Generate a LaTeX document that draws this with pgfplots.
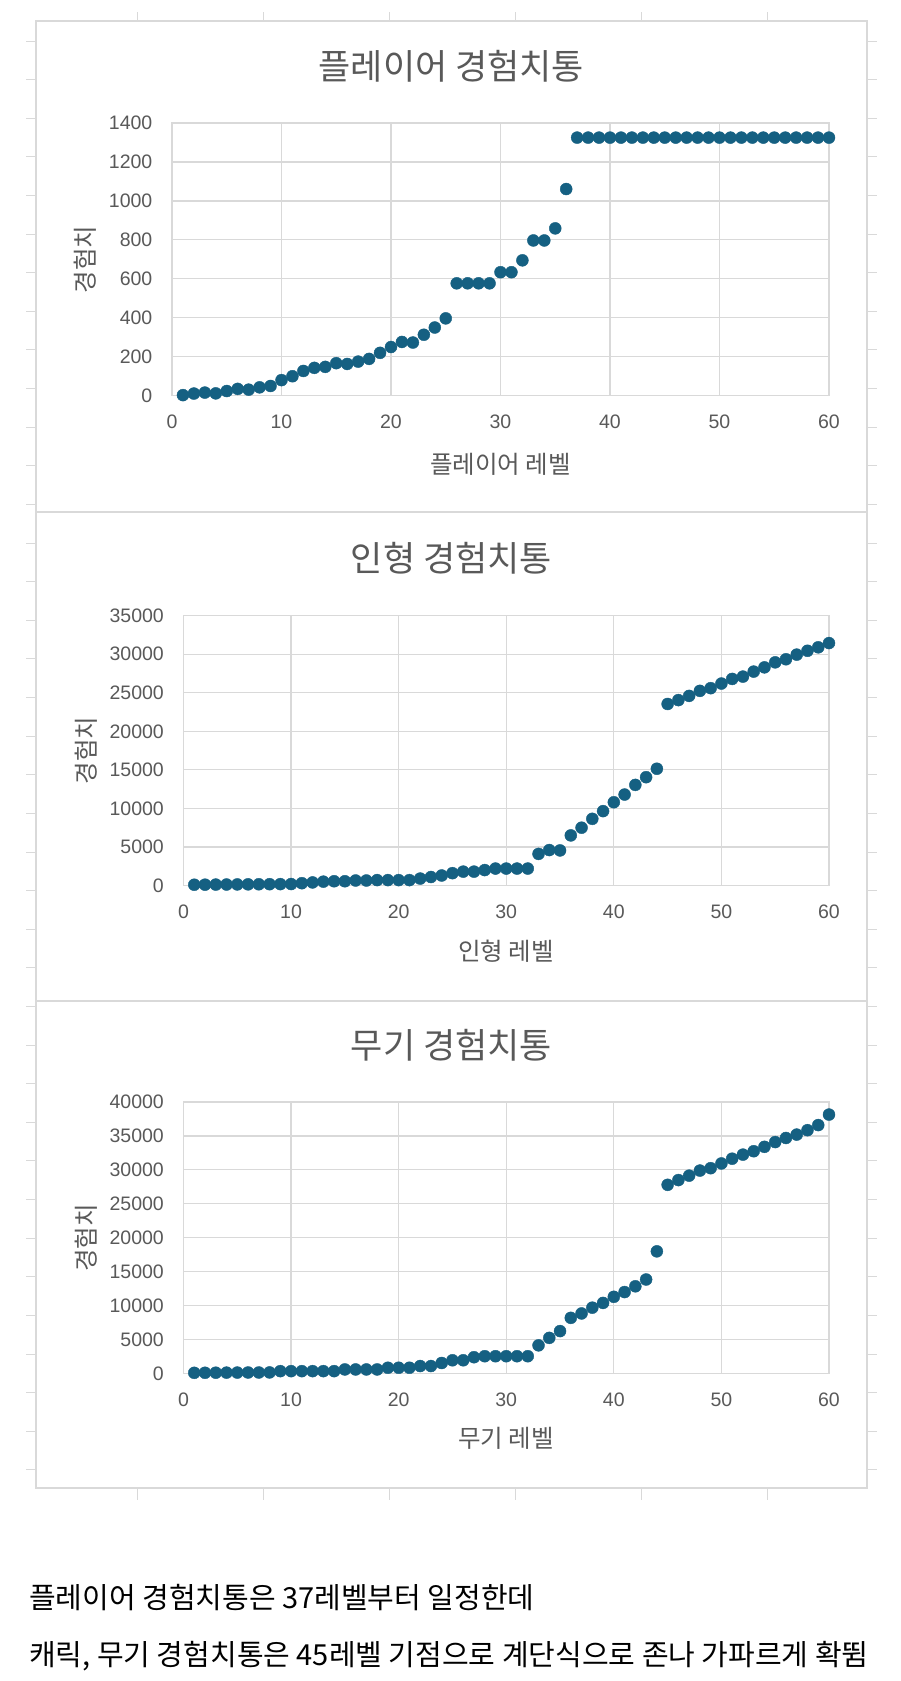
\documentclass[border=0pt]{standalone}
\usepackage{fontspec}
\setmainfont{Liberation Sans}
\newfontfamily\kr{Noto Sans CJK KR}
\usepackage{pgfplots}
\pgfplotsset{compat=1.18}
\definecolor{dot}{HTML}{156082}
\definecolor{gridc}{HTML}{D9D9D9}
\definecolor{txt}{HTML}{595959}

\pgfplotsset{excel/.style={
  scale only axis,
  xmin=0, xmax=60, xtick={0,10,...,60},
  scaled y ticks=false, scaled x ticks=false,
  grid=major,
  major grid style={gridc, line width=1.2pt},
  axis line style={gridc, line width=1.2pt},
  major tick length=0pt,
  tick style={draw=none},
  ticklabel style={font=\fontsize{19.5}{22}\selectfont, text=txt},
  /pgf/number format/assume math mode=true,
  /pgf/number format/1000 sep={},
  xticklabel style={anchor=center, yshift=-26pt},
  yticklabel style={anchor=east, inner sep=0pt, xshift=-19.5pt},
  label style={font=\kr\fontsize{24.5}{27}\selectfont, text=txt},
  title style={font=\kr\fontsize{35}{38}\selectfont, text=txt, anchor=center, yshift=-4pt},
  clip=false,
  ylabel={경험치},
},
dots/.style={only marks, mark=*, mark size=6pt, color=dot, mark options={fill=dot, draw=none}}}

\begin{document}
\begin{tikzpicture}[x=1pt,y=1pt]
\fill[white] (0,0) rectangle (900,-1681);
\useasboundingbox (0,0) rectangle (900,-1681);

% spreadsheet cell stubs
\foreach \k in {0,...,37} {
  \draw[gridc, line width=1pt] (26,{-41-38.62*\k}) -- (36,{-41-38.62*\k});
  \draw[gridc, line width=1pt] (867,{-41-38.62*\k}) -- (877,{-41-38.62*\k});
}
\foreach \c in {137,263,389,515,641,767} {
  \draw[gridc, line width=1pt] (\c,-12) -- (\c,-21);
  \draw[gridc, line width=1pt] (\c,-1488) -- (\c,-1500);
}

% chart boxes
\draw[gridc, line width=1.3pt] (36,-21) rectangle (867,-512);
\draw[gridc, line width=1.3pt] (36,-512) rectangle (867,-1001);
\draw[gridc, line width=1.3pt] (36,-1001) rectangle (867,-1488);

% Chart 1
\begin{axis}[excel,
  at={(172pt,-395.7pt)}, anchor=south west,
  width=657pt, height=272.7pt,
  ymin=0, ymax=1400, ytick={0,200,...,1400},
  title={플레이어 경험치통},
  title style={at={(axis description cs:0.4254,1.202)}},
  xlabel={플레이어 레벨},
  xlabel style={at={(axis description cs:0.5,-0.25)}, anchor=center},
  ylabel style={at={(axis description cs:-0.1317,0.5)}, anchor=center},
]
\addplot[dots] coordinates {
(1,3)(2,11)(3,16)(4,12)(5,24)(6,35)(7,31)(8,43)(9,50)(10,80)
(11,100)(12,127)(13,143)(14,148)(15,167)(16,163)(17,175)(18,189)(19,220)(20,250)
(21,276)(22,273)(23,313)(24,350)(25,397)(26,577)(27,577)(28,577)(29,577)(30,634)
(31,634)(32,695)(33,797)(34,797)(35,859)(36,1061)(37,1325)(38,1325)(39,1325)(40,1325)
(41,1325)(42,1325)(43,1325)(44,1325)(45,1325)(46,1325)(47,1325)(48,1325)(49,1325)(50,1325)
(51,1325)(52,1325)(53,1325)(54,1325)(55,1325)(56,1325)(57,1325)(58,1325)(59,1325)(60,1325)
};
\end{axis}

% Chart 2
\begin{axis}[excel,
  at={(183.5pt,-885.5pt)}, anchor=south west,
  width=645.5pt, height=269.8pt,
  ymin=0, ymax=35000, ytick={0,5000,...,35000},
  title={인형 경험치통},
  title style={at={(axis description cs:0.4152,1.204)}},
  xlabel={인형 레벨},
  xlabel style={at={(axis description cs:0.5,-0.245)}, anchor=center},
  ylabel style={at={(axis description cs:-0.150,0.5)}, anchor=center},
]
\addplot[dots] coordinates {
(1,100)(2,110)(3,120)(4,130)(5,140)(6,150)(7,160)(8,170)(9,180)(10,190)
(11,300)(12,400)(13,500)(14,550)(15,550)(16,650)(17,650)(18,700)(19,700)(20,700)
(21,700)(22,900)(23,1100)(24,1300)(25,1600)(26,1800)(27,1800)(28,2000)(29,2200)(30,2200)
(31,2200)(32,2200)(33,4100)(34,4600)(35,4550)(36,6500)(37,7500)(38,8650)(39,9650)(40,10800)
(41,11800)(42,13050)(43,14050)(44,15150)(45,23550)(46,24050)(47,24600)(48,25250)(49,25600)(50,26200)
(51,26800)(52,27100)(53,27750)(54,28300)(55,28950)(56,29350)(57,29950)(58,30450)(59,30900)(60,31450)
};
\end{axis}

% Chart 3
\begin{axis}[excel,
  at={(183.5pt,-1373.5pt)}, anchor=south west,
  width=645.5pt, height=271.5pt,
  ymin=0, ymax=40000, ytick={0,5000,...,40000},
  title={무기 경험치통},
  title style={at={(axis description cs:0.4152,1.20)}},
  xlabel={무기 레벨},
  xlabel style={at={(axis description cs:0.5,-0.240)}, anchor=center},
  ylabel style={at={(axis description cs:-0.150,0.5)}, anchor=center},
]
\addplot[dots] coordinates {
(1,100)(2,110)(3,120)(4,130)(5,140)(6,150)(7,150)(8,160)(9,350)(10,350)
(11,350)(12,350)(13,350)(14,350)(15,600)(16,600)(17,600)(18,600)(19,850)(20,850)
(21,850)(22,1100)(23,1100)(24,1550)(25,1950)(26,1950)(27,2400)(28,2550)(29,2550)(30,2550)
(31,2550)(32,2550)(33,4150)(34,5250)(35,6250)(36,8200)(37,8850)(38,9700)(39,10400)(40,11300)
(41,12000)(42,12850)(43,13850)(44,18000)(45,27800)(46,28500)(47,29150)(48,29900)(49,30250)(50,30950)
(51,31650)(52,32250)(53,32750)(54,33400)(55,34100)(56,34700)(57,35200)(58,35850)(59,36600)(60,38150)
};
\end{axis}

% caption text
\node[anchor=base west, inner sep=0pt, font=\kr\fontsize{29}{32}\selectfont] at (29,-1608) {플레이어 경험치통은 37레벨부터 일정한데};
\node[anchor=base west, inner sep=0pt, font=\kr\fontsize{29}{32}\selectfont] at (29,-1665) {캐릭, 무기 경험치통은 45레벨 기점으로 계단식으로 존나 가파르게 확뜀};
\end{tikzpicture}
\end{document}
